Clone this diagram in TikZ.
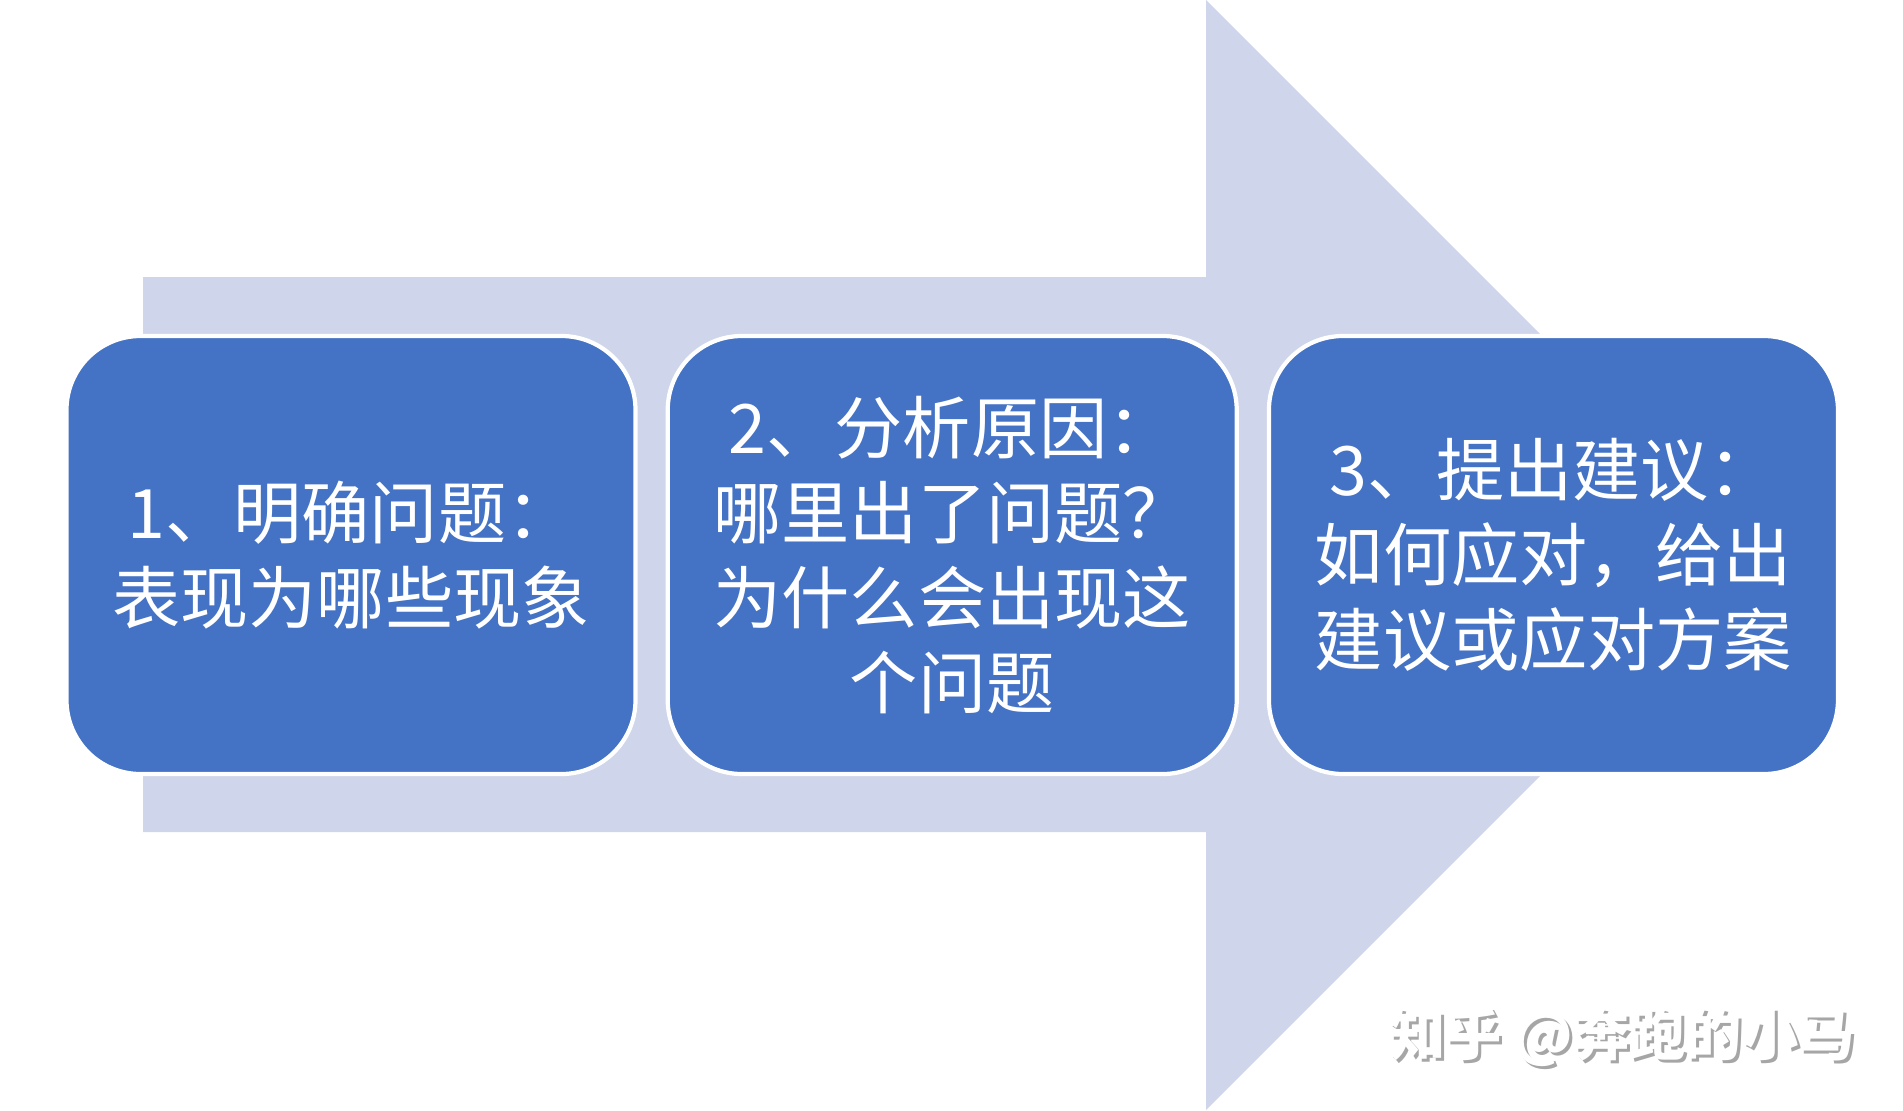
\documentclass[tikz,border=0pt]{standalone}
\usepackage{fontspec}
\newfontfamily\cjk{Noto Sans CJK SC}
\usetikzlibrary{positioning}
\definecolor{stepblue}{HTML}{4472C4}
\definecolor{bandgray}{HTML}{CFD5EA}
\tikzset{
  stepbox/.style={fill=stepblue, draw=white, line width=1.2pt, rounded corners=0.74cm,
    minimum width=5.69cm, minimum height=4.38cm, inner sep=0pt, text=white, align=center,
    font=\cjk\fontsize{19.4pt}{24.2pt}\selectfont},
  wmtext/.style={font=\cjk\bfseries\fontsize{16pt}{18pt}\selectfont, inner sep=0pt}
}
\begin{document}
\begin{tikzpicture}
        \useasboundingbox (0,0) rectangle (19.03,11.10);
        % big arrow behind the steps
        \fill[bandgray] (1.43,8.33)--(12.06,8.33)--(12.06,11.10)--(17.61,5.55)--(12.06,0)--(12.06,2.78)--(1.43,2.78)--cycle;
        \node[stepbox] (define) at (3.51,5.55) {1、明确问题：\\表现为哪些现象};
        \node[stepbox,right=0.28cm of define] (analyse) {2、分析原因：\\哪里出了问题？\\为什么会出现这\\个问题};
        \node[stepbox,right=0.28cm of analyse] (advise) {3、提出建议：\\如何应对，给出\\建议或应对方案};
        % watermark
        \node[wmtext,text=black!35] (zhihu shadow) at (16.25,0.70) {知乎 @奔跑的小马};
        \node[wmtext,text=white] (zhihu) at (16.22,0.73) {知乎 @奔跑的小马};
\end{tikzpicture}
\end{document}
